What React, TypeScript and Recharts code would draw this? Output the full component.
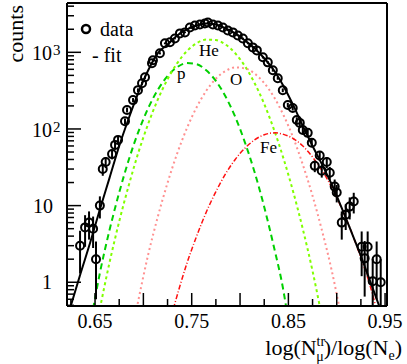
import React from 'react';
import { ComposedChart, XAxis, YAxis, Line, Scatter, ErrorBar, ReferenceLine } from 'recharts';

// measured data points
const dataX = [0.6345,0.6397,0.6438,0.648,0.651,0.655,0.658,0.661,0.6676,0.6707,0.6738,0.681,0.6831,0.6893,0.6944,0.6986,0.7017,0.7089,0.7099,0.7171,0.7223,0.7275,0.7326,0.7378,0.743,0.7481,0.7533,0.7585,0.7636,0.7667,0.7719,0.7771,0.7822,0.7874,0.7926,0.7977,0.8029,0.8081,0.8132,0.8174,0.8236,0.8287,0.8339,0.839,0.8442,0.8494,0.8545,0.8587,0.8618,0.8649,0.870,0.8742,0.8773,0.8824,0.8845,0.8897,0.8928,0.8979,0.900,0.9052,0.9093,0.9134,0.9176,0.9258,0.9289,0.932,0.9372,0.9413,0.9455];
const dataCounts = [3.0,5.2,6.0,5.0,2.0,10,30,37,47,62,72,126,177,238,321,395,473,720,787,970,1310,1350,1515,1765,1820,2110,2240,2310,2380,2455,2310,2240,2110,1930,1820,1660,1515,1310,1160,1060,860,740,583,460,320,205,188,131,120,97,89,66,33,45,28.5,37,26.8,17.7,14.8,6.0,7.6,9.7,11.3,2.9,2.05,2.9,1.03,2.0,1.0];
const dataErr = [1.7,2.3,2.4,2.2,1.4,3.2,5.5,6.1,6.9,7.9,8.5,11,13,15,18,20,22,27,28,31,36,37,39,42,43,46,47,48,49,50,48,47,46,44,43,41,39,36,34,33,29,27,24,21,18,14,14,11,11,10,9.4,8.1,5.7,6.7,5.3,6.1,5.2,4.2,3.8,2.4,2.8,3.1,3.4,1.7,1.4,1.7,1.0,1.4,1.0];

// total fit
const fitX = [0.624,0.635,0.645,0.655,0.665,0.675,0.685,0.695,0.705,0.715,0.725,0.735,0.745,0.755,0.765,0.775,0.785,0.795,0.805,0.815,0.825,0.835,0.845,0.855,0.865,0.875,0.885,0.895,0.905,0.915,0.925,0.935,0.945];
const fitY = [0.45,1.3,3.3,8.9,23,60,139,302,583,974,1270,1660,1990,2240,2380,2310,2050,1765,1430,1130,836,583,362,205,109,60,34,18.7,9.4,4.6,2.2,1.0,0.45];

// components
const pX = [0.648,0.655,0.665,0.675,0.685,0.695,0.705,0.715,0.725,0.735,0.745,0.755,0.765,0.775,0.785,0.795,0.805,0.815,0.825,0.835,0.845,0.848];
const pY = [0.45,1.32,4.8,14.8,40,93,187,325,490,640,724,700,583,423,265,144,67,27.4,9.6,2.9,0.76,0.45];
const heX = [0.655,0.665,0.675,0.685,0.695,0.705,0.715,0.725,0.735,0.745,0.755,0.765,0.775,0.785,0.795,0.805,0.815,0.825,0.835,0.845,0.855,0.865,0.875,0.883];
const heY = [0.45,1.81,6.2,18.6,50,117,243,446,722,1035,1310,1465,1447,1262,973,662,398,212,99,41,15.1,4.9,1.40,0.45];
const oX = [0.693,0.705,0.715,0.725,0.735,0.745,0.755,0.765,0.775,0.785,0.795,0.805,0.815,0.825,0.835,0.845,0.855,0.865,0.875,0.885,0.895,0.903];
const oY = [0.45,2.3,7.2,19.8,48,102,191,314,452,571,635,618,529,397,262,151,77,34,13.4,4.6,1.39,0.45];
const feX = [0.731,0.745,0.755,0.765,0.775,0.785,0.795,0.805,0.815,0.825,0.836,0.845,0.855,0.865,0.875,0.885,0.895,0.905,0.915,0.925,0.935,0.941];
const feY = [0.45,1.76,3.97,8.2,15.2,25.9,40,56,72,84,89,85,75,60,43,28.5,17.1,9.3,4.6,2.09,0.86,0.45];

const xTicks = [0.625,0.65,0.675,0.7,0.725,0.75,0.775,0.8,0.825,0.85,0.875,0.9,0.925,0.95];
const xLabels: Record<string, string> = { '0.65': '0.65', '0.75': '0.75', '0.85': '0.85', '0.95': '0.95' };
const yTicks = [0.5,0.6,0.7,0.8,0.9,1,2,3,4,5,6,7,8,9,10,20,30,40,50,60,70,80,90,100,200,300,400,500,600,700,800,900,1000,2000,3000,4000];

const FONT = 'Liberation Serif, Times New Roman, serif';
const AX_LEFT = 67;
const AX_BOTTOM = 306;

const toPts = (xs: number[], ys: number[]) => xs.map((x, i) => ({ x, y: ys[i] }));
const points = dataX.map((x, i) => {
  const y = dataCounts[i];
  const e = dataErr[i];
  return { x, y, err: [Math.min(e, y - 0.5), e] };
});

const XTick = (props: any) => {
  const { x, payload } = props;
  const v = payload.value;
  const key = v.toFixed(2);
  const isHalf = Math.abs(Math.round(v * 20) - v * 20) < 1e-6;
  const len = isHalf ? 13 : 7;
  return (
    <g>
      <line x1={x} x2={x} y1={AX_BOTTOM} y2={AX_BOTTOM - len} stroke="#000" strokeWidth={1.5} />
      {xLabels[key] && Math.abs(v * 10 - Math.round(v * 10)) > 1e-6 ? (
        <text x={x} y={328} textAnchor="middle" fontSize={20} fontFamily={FONT} fill="#000">{xLabels[key]}</text>
      ) : null}
    </g>
  );
};

const YTick = (props: any) => {
  const { y, payload } = props;
  const v = payload.value;
  const major = v === 1 || v === 10 || v === 100 || v === 1000;
  const len = major ? 14 : 7;
  let label: any = null;
  if (v === 1) label = <text x={52} y={y + 7} textAnchor="end" fontSize={20} fontFamily={FONT}>1</text>;
  if (v === 10) label = <text x={53} y={y + 7} textAnchor="end" fontSize={20} fontFamily={FONT}>10</text>;
  if (v === 100 || v === 1000)
    label = (
      <g>
        <text x={52} y={y + 8} textAnchor="end" fontSize={20} fontFamily={FONT}>10</text>
        <text x={53} y={y + 3} fontSize={15} fontFamily={FONT}>{v === 100 ? '2' : '3'}</text>
      </g>
    );
  return (
    <g>
      <line x1={AX_LEFT} x2={AX_LEFT + len} y1={y} y2={y} stroke="#000" strokeWidth={1.5} />
      {label}
    </g>
  );
};

const Marker = (props: any) => {
  const { cx, cy } = props;
  if (cx == null || cy == null) return null;
  return <circle cx={cx} cy={cy} r={4} fill="none" stroke="#000" strokeWidth={2} />;
};

export default function App() {
  return (
    <div style={{ position: 'absolute', left: 0, top: 0, width: 407, height: 364, background: '#fff' }}>
      <ComposedChart width={407} height={364} margin={{ top: 3, right: 20, bottom: 0, left: 0 }}>
        <XAxis type="number" dataKey="x" domain={[0.621, 0.952]} allowDataOverflow ticks={xTicks} interval={0}
          tick={<XTick />} tickLine={false} tickSize={0} tickMargin={0} axisLine={{ stroke: '#000', strokeWidth: 2 }} height={58} />
        <YAxis type="number" dataKey="y" scale="log" domain={[0.49, 4400]} allowDataOverflow ticks={yTicks} interval={0}
          tick={<YTick />} tickLine={false} tickSize={0} tickMargin={0} axisLine={{ stroke: '#000', strokeWidth: 2 }} width={67} />
        <ReferenceLine x={0.952} stroke="#000" strokeWidth={2} ifOverflow="visible" />
        <ReferenceLine y={4400} stroke="#000" strokeWidth={2} ifOverflow="visible" />
        <Line data={toPts(pX, pY)} dataKey="y" type="monotone" stroke="#00d000" strokeWidth={2} strokeDasharray="6 4" dot={false} isAnimationActive={false} />
        <Line data={toPts(heX, heY)} dataKey="y" type="monotone" stroke="#80ff00" strokeWidth={2} strokeDasharray="3 3" dot={false} isAnimationActive={false} />
        <Line data={toPts(oX, oY)} dataKey="y" type="monotone" stroke="#ff9090" strokeWidth={2} strokeDasharray="2 3" dot={false} isAnimationActive={false} />
        <Line data={toPts(feX, feY)} dataKey="y" type="monotone" stroke="#ff1010" strokeWidth={1.5} strokeDasharray="5 2 1 2" dot={false} isAnimationActive={false} />
        <Line data={toPts(fitX, fitY)} dataKey="y" type="monotone" stroke="#000" strokeWidth={2} dot={false} isAnimationActive={false} />
        <Scatter data={points} dataKey="y" shape={<Marker />} isAnimationActive={false}>
          <ErrorBar dataKey="err" direction="y" width={0} stroke="#000" strokeWidth={2} />
        </Scatter>
      </ComposedChart>
      <svg style={{ position: 'absolute', left: 0, top: 0 }} width={407} height={364} fontFamily={FONT}>
        <text transform="translate(23,5) rotate(-90)" textAnchor="end" fontSize={22}>counts</text>
        <text x={402} y={355} textAnchor="end" fontSize={22}>
          log(N<tspan dy={-9} fontSize={14}>tr</tspan><tspan dx={-9} dy={15} fontSize={14}>μ</tspan><tspan dy={-6} fontSize={22}>)/log(N</tspan><tspan dy={5} fontSize={14}>e</tspan><tspan dy={-5} fontSize={22}>)</tspan>
        </text>
        <circle cx={86} cy={29} r={4} fill="none" stroke="#000" strokeWidth={2.5} />
        <text x={100} y={36} fontSize={20}>data</text>
        <text x={92} y={62} fontSize={20}>- fit</text>
        <text x={199} y={56} fontSize={17}>He</text>
        <text x={177} y={79} fontSize={17}>p</text>
        <text x={230} y={85} fontSize={17}>O</text>
        <text x={260} y={153} fontSize={17}>Fe</text>
      </svg>
    </div>
  );
}
